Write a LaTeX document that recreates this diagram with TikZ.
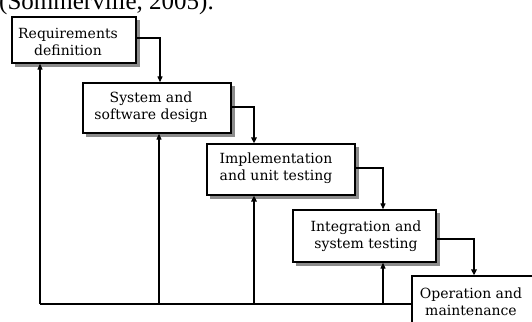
\documentclass[tikz,border=0pt]{standalone}
\usepackage{fontspec}
\setmainfont{DejaVu Serif}
\newfontfamily\citefont{Liberation Serif}
\usetikzlibrary{arrows.meta,backgrounds}
\begin{document}
\begin{tikzpicture}[x=1pt,y=-1pt,
  boxstyle/.style={draw=black, line width=1.3pt, fill=white, inner sep=0pt},
  shadowfill/.style={fill=black!45},
  txt/.style={align=center, inner sep=0pt, font=\fontsize{14}{17}\selectfont},
  fwd/.style={draw=black, line width=1.1pt, -{Triangle[length=6pt,width=5pt]}},
  fwdthick/.style={draw=black, line width=2.2pt, -{Triangle[length=6pt,width=5.5pt]}},
  fb/.style={draw=black, line width=1.1pt, -{Triangle[length=6pt,width=5pt]}},
  fbthick/.style={draw=black, line width=2.2pt, -{Triangle[length=6pt,width=5.5pt]}},
  baseline/.style={draw=black, line width=1.4pt}
]
\useasboundingbox (0,0) rectangle (532,321);
\clip (0,0) rectangle (532,321);

\node[anchor=base west, inner sep=0pt, font=\fontsize{25}{30}\selectfont\citefont] (cite) at (-1,10) {(Sommerville, 2005).};

% boxes
\node[boxstyle, minimum width=124pt, minimum height=46pt] (req) at (74,40) {};
\node[boxstyle, minimum width=148pt, minimum height=50pt] (sys) at (157,108) {};
\node[boxstyle, minimum width=148pt, minimum height=51pt] (imp) at (281,169.5) {};
\node[boxstyle, minimum width=143pt, minimum height=52pt] (int) at (364.5,236) {};
\node[boxstyle, minimum width=133pt, minimum height=59pt] (op) at (478.5,305.5) {};

% shadows
\begin{scope}[on background layer]
\foreach \b in {req,sys,imp,int}
  \fill[shadowfill] ([shift={(3.5pt,-3.5pt)}]\b.south west) rectangle ([shift={(3.5pt,-3.5pt)}]\b.north east);
\end{scope}

% texts
\node[txt] (reqT) at (68,42) {Requirements\\definition};
\node[txt] (sysT) at (151,107.5) {System and\\software design};
\node[txt] (impT) at (276,168.5) {Implementation\\and unit testing};
\node[txt] (intT) at (366,236) {Integration and\\system testing};
\node[txt] (opT) at (471,301.5) {Operation and\\maintenance};

% forward connectors
\draw[fwd] ([yshift=2pt]req.east) -| ([xshift=3pt]sys.north);
\draw[fwdthick] ([yshift=1pt]sys.east) -| ([xshift=-27pt]imp.north);
\draw[fwd] ([yshift=1.5pt]imp.east) -| ([xshift=18.5pt]int.north);
\draw[fwdthick] ([yshift=-3pt]int.east) -| ([xshift=-4.5pt]op.north);

% feedback
\coordinate (f1) at (40,304);
\coordinate (f2) at (159,304);
\coordinate (f3) at (254,304);
\coordinate (f4) at (383,304);
\draw[baseline] (op.west |- f1) -- (f1);
\draw[fb] (f1) -- (f1 |- req.south);
\draw[fb] (f2) -- (f2 |- sys.south);
\draw[fbthick] (f3) -- (f3 |- imp.south);
\draw[fb] (f4) -- (f4 |- int.south);
\end{tikzpicture}
\end{document}
